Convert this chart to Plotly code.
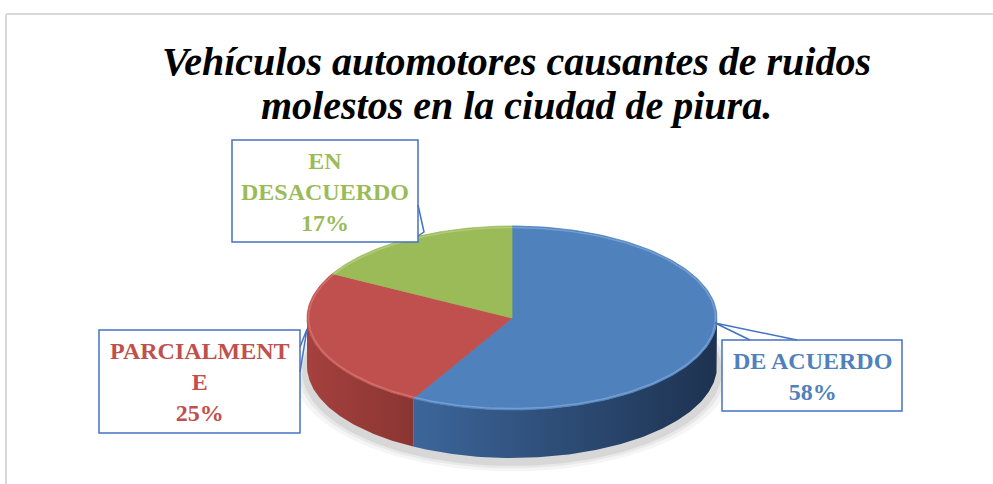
import numpy as np
import plotly.graph_objects as go

# ---- data ----
categories = ["DE ACUERDO", "PARCIALMENTE", "EN DESACUERDO"]
label_lines = ["DE ACUERDO", "PARCIALMENT<br>E", "EN<br>DESACUERDO"]
values = [58, 25, 17]
title_lines = ["Vehículos automotores causantes de ruidos",
               "molestos en la ciudad de piura."]

# ---- style ----
top_colors = ["#4F81BD", "#C0504D", "#9BBB59"]
side_scales = [
    [[0, "#3c669b"], [0.5, "#2d4c75"], [1, "#1d3250"]],
    [[0, "#a5413e"], [1, "#8a3532"]],
    [[0, "#7d9a45"], [1, "#62793a"]],
]
W, H = 993, 484
cx, cy, rx, ry, depth = 512, 318, 205, 92, 48
FONT = "Liberation Serif"

fig = go.Figure()

# shadow
t = np.linspace(0, 2 * np.pi, 200)
for grow, alpha in [(14, 0.04), (9, 0.05), (5, 0.07)]:
    fig.add_trace(go.Scatter(
        x=cx + (rx + grow) * np.cos(t), y=cy + depth + 5 + (ry + grow * 0.6) * np.sin(t),
        fill="toself", fillcolor=f"rgba(0,0,0,{alpha})", line=dict(width=0),
        mode="lines", hoverinfo="skip", showlegend=False))

total = sum(values)
start = 90.0
angles = []
for v in values:
    a1 = start
    a2 = start - v / total * 360.0
    angles.append((a1, a2))
    start = a2

# side walls (front half only)
for (a1, a2), cs in zip(angles, side_scales):
    lo, hi = max(a2, -180), min(a1, 0)
    if hi <= lo:
        continue
    th = np.radians(np.linspace(lo, hi, 120))
    xs = cx + rx * np.cos(th)
    ys_top = cy - ry * np.sin(th)
    xp = np.concatenate([xs, xs[::-1]])
    yp = np.concatenate([ys_top, ys_top[::-1] + depth])
    fig.add_trace(go.Scatter(
        x=xp, y=yp, fill="toself", mode="lines", line=dict(width=0),
        fillgradient=dict(type="horizontal", colorscale=cs),
        hoverinfo="skip", showlegend=False))

# top faces
for (a1, a2), col, name in zip(angles, top_colors, categories):
    th = np.radians(np.linspace(a1, a2, 150))
    xs = np.concatenate([[cx], cx + rx * np.cos(th), [cx]])
    ys = np.concatenate([[cy], cy - ry * np.sin(th), [cy]])
    fig.add_trace(go.Scatter(
        x=xs, y=ys, fill="toself", fillcolor=col, mode="lines",
        line=dict(width=0.8, color=col), name=name, showlegend=False,
        hoverinfo="name"))

# rim highlight on top face edge
for (a1, a2), col in zip(angles, ["#7ea6d8", "#d47875", "#b5cf80"]):
    th = np.radians(np.linspace(a1, a2, 150))
    fig.add_trace(go.Scatter(
        x=cx + (rx - 1.5) * np.cos(th), y=cy - (ry - 1.5) * np.sin(th),
        mode="lines", line=dict(width=1.5, color=col), opacity=0.8,
        hoverinfo="skip", showlegend=False))

shapes = []
# outer frame
shapes.append(dict(type="line", x0=6, y0=14, x1=6, y1=H, line=dict(color="#d9d9d9", width=2)))
shapes.append(dict(type="line", x0=6, y0=14, x1=W, y1=14, line=dict(color="#d9d9d9", width=2)))

box_col = "#4472C4"
boxes = [
    (722, 340, 902, 411),   # DE ACUERDO
    (99, 330, 300, 433),    # PARCIALMENTE
    (232, 140, 418, 242),   # EN DESACUERDO
]
for x0, y0, x1, y1 in boxes:
    shapes.append(dict(type="rect", x0=x0, y0=y0, x1=x1, y1=y1,
                       line=dict(color=box_col, width=1.5), fillcolor="white", layer="above"))
tails = [
    "M 750 340 L 715 323 L 797 340",
    "M 300 347 L 307 329 L 300 372",
    "M 418 205 L 424 232 L 418 236",
]
for p in tails:
    shapes.append(dict(type="path", path=p, line=dict(color=box_col, width=1.5), layer="above"))

annotations = []
for i, yy in enumerate([61, 105]):
    annotations.append(dict(
        x=516, y=yy, xref="x", yref="y", text=f"<b><i>{title_lines[i]}</i></b>",
        showarrow=False, font=dict(family=FONT, size=40, color="black"),
        xanchor="center", yanchor="middle"))

label_pos = [(812, 376), (200, 382), (325, 192)]
for (lx, ly), lab, v, col in zip(label_pos, label_lines, values, top_colors):
    annotations.append(dict(
        x=lx, y=ly, xref="x", yref="y", text=f"<b>{lab}<br>{v}%</b>",
        showarrow=False, font=dict(family=FONT, size=24, color=col),
        xanchor="center", yanchor="middle", align="center"))

fig.update_layout(
    width=W, height=H, margin=dict(l=0, r=0, t=0, b=0),
    paper_bgcolor="white", plot_bgcolor="white",
    xaxis=dict(range=[0, W], visible=False, fixedrange=True),
    yaxis=dict(range=[H, 0], visible=False, fixedrange=True),
    shapes=shapes, annotations=annotations, showlegend=False,
)
fig.write_html("out.html", config={"displayModeBar": False},
               post_script="document.body.style.margin='0';document.body.style.overflow='hidden';")
